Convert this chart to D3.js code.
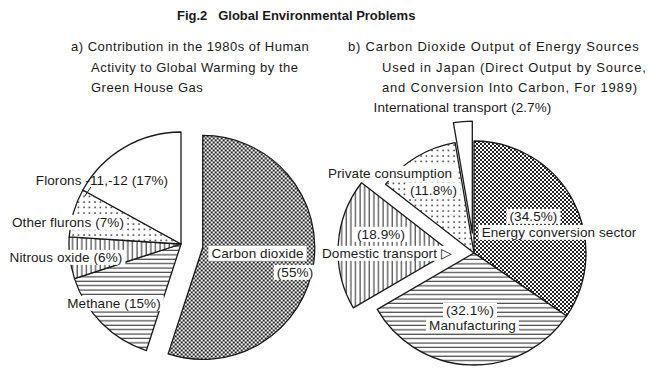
<!DOCTYPE html>
<html>
<head>
<meta charset="utf-8">
<script src="https://cdn.jsdelivr.net/npm/d3@7"></script>
<style>
  body { margin: 0; background: #fff; }
  text { font-family: "Liberation Sans", Arial, sans-serif; fill: #1a1a1a; }
</style>
</head>
<body>
<svg class="chart"></svg>
<script>
// titles
var figTitle = "Fig.2   Global Environmental Problems";
var titleA = ["a) Contribution in the 1980s of Human", "Activity to Global Warming by the", "Green House Gas"];
var titleB = ["b) Carbon Dioxide Output of Energy Sources", "Used in Japan (Direct Output by Source,", "and Conversion Into Carbon, For 1989)"];

// a) greenhouse gases, clockwise from 12 o'clock
var gasNames = ["Carbon dioxide", "Methane", "Nitrous oxide", "Other flurons", "Florons -11,-12"];
var gasShares = [55, 15, 6, 7, 17];

// b) energy sources, clockwise from 12 o'clock
var sourceNames = ["Energy conversion sector", "Manufacturing", "Domestic transport", "Private consumption", "International transport"];
var sourceShares = [34.5, 32.1, 18.9, 11.8, 2.7];

window.onload = function() {

	var width = 650, height = 372, r = 112;

	var svg = d3.select(".chart")
		.attr("width", width)
		.attr("height", height);

	// fill patterns
	var defs = svg.append("defs");
	var checker = defs.append("pattern").attr("id", "checker")
		.attr("patternUnits", "userSpaceOnUse").attr("width", 4).attr("height", 4);
	checker.append("rect").attr("width", 4).attr("height", 4).attr("fill", "#fff");
	checker.append("rect").attr("width", 2).attr("height", 2).attr("fill", "#222");
	checker.append("rect").attr("x", 2).attr("y", 2).attr("width", 2).attr("height", 2).attr("fill", "#222");

	var hlines = defs.append("pattern").attr("id", "hlines")
		.attr("patternUnits", "userSpaceOnUse").attr("width", 8).attr("height", 4.4);
	hlines.append("rect").attr("width", 8).attr("height", 4.4).attr("fill", "#fff");
	hlines.append("rect").attr("y", 1.5).attr("width", 8).attr("height", 1).attr("fill", "#222");

	var vlines = defs.append("pattern").attr("id", "vlines")
		.attr("patternUnits", "userSpaceOnUse").attr("width", 4.6).attr("height", 8);
	vlines.append("rect").attr("width", 4.6).attr("height", 8).attr("fill", "#fff");
	vlines.append("rect").attr("x", 1.5).attr("width", 1).attr("height", 8).attr("fill", "#222");

	var dots = defs.append("pattern").attr("id", "dots")
		.attr("patternUnits", "userSpaceOnUse").attr("width", 5.5).attr("height", 5.5);
	dots.append("rect").attr("width", 5.5).attr("height", 5.5).attr("fill", "#fff");
	dots.append("circle").attr("cx", 2).attr("cy", 2).attr("r", 0.85).attr("fill", "#222");

	var fills = ["url(#checker)", "url(#hlines)", "url(#vlines)", "url(#dots)", "#fff"];

	// title and subtitles
	svg.append("text")
		.attr("x", 177).attr("y", 20)
		.style("font-size", "13px").style("font-weight", "bold")
		.attr("xml:space", "preserve")
		.text(figTitle);

	function subtitle(lines, x0, x1, spacing) {
		svg.append("g").selectAll("text")
			.data(lines)
		  .enter().append("text")
			.attr("x", function(d, i) { return i == 0 ? x0 : x1; })
			.attr("y", function(d, i) { return 51 + i * 20.7; })
			.style("font-size", "13px")
			.style("letter-spacing", spacing + "px")
			.text(function(d) { return d; });
	}
	subtitle(titleA, 71, 91, 0.5);
	subtitle(titleB, 348, 382, 0.8);

	var pie = d3.pie().sort(null).value(function(d) { return d; });
	var arc = d3.arc().innerRadius(0).outerRadius(r);

	// draw one pie, pulling some slices out along their bisector
	function drawPie(cx, cy, values, explode) {
		var g = svg.append("g").attr("transform", "translate(" + cx + "," + cy + ")");
		var arcs = pie(values);
		g.append("g").selectAll("path")
			.data(arcs)
		  .enter().append("path")
			.attr("d", arc)
			.attr("transform", function(d, i) {
				var a = (d.startAngle + d.endAngle) / 2, e = explode[i];
				return "translate(" + (Math.sin(a) * e) + "," + (-Math.cos(a) * e) + ")";
			})
			.attr("fill", function(d, i) { return fills[i]; })
			.attr("stroke", "#1a1a1a")
			.attr("stroke-width", 1.3)
			.attr("stroke-linejoin", "round");
		return {g: g, arcs: arcs};
	}

	// label with a white box behind it
	function label(g, txt, x, y, boxed) {
		var lg = g.append("g");
		var box = lg.append("rect").attr("fill", "#ffffff");
		var t = lg.append("text")
			.attr("x", x).attr("y", y).attr("dy", "0.36em")
			.attr("text-anchor", "middle")
			.style("font-size", "13.5px")
			.style("letter-spacing", "0.1px")
			.text(txt);
		if (boxed) {
			var b = t.node().getBBox();
			box.attr("x", b.x - 3).attr("y", b.y)
				.attr("width", b.width + 6).attr("height", b.height);
		} else {
			box.remove();
		}
	}

	// a) left pie
	var left = drawPie(181, 244, gasShares, [22, 0, 0, 0, 0]);
	var pct = function(v) { return "(" + v + "%)"; };
	label(left.g, gasNames[0], 76.5, 9, true);
	label(left.g, pct(gasShares[0]), 114, 28, true);
	label(left.g, gasNames[1] + " " + pct(gasShares[1]), -67, 59, true);
	label(left.g, gasNames[2] + " " + pct(gasShares[2]), -115, 13, true);
	label(left.g, gasNames[3] + " " + pct(gasShares[3]), -113, -22, true);
	label(left.g, gasNames[4] + " " + pct(gasShares[4]), -79, -64, false);

	// leader from the florons label down to the rim
	var fa = left.arcs[4].startAngle;
	left.g.append("line")
		.attr("x1", Math.sin(fa) * r + 2).attr("y1", -Math.cos(fa) * r + 6)
		.attr("x2", Math.sin(fa) * r + 8).attr("y2", -Math.cos(fa) * r - 3)
		.attr("stroke", "#1a1a1a").attr("stroke-width", 1);

	// b) right pie
	var right = drawPie(474, 253, sourceShares, [0, 0, 24, 0, 20]);
	label(right.g, pct(sourceShares[0]), 59.5, -37, true);
	label(right.g, sourceNames[0], 85, -21, true);
	label(right.g, pct(sourceShares[1]), -4, 57, true);
	label(right.g, sourceNames[1], -1.5, 72, true);
	label(right.g, pct(sourceShares[2]), -93, -19, true);
	label(right.g, sourceNames[2] + " \u25B7", -87, 0, true);
	label(right.g, sourceNames[3], -84, -80, true);
	label(right.g, pct(sourceShares[3]), -40.5, -63, true);
	label(right.g, sourceNames[4] + " " + pct(sourceShares[4]), -11.5, -146, false);
}
</script>
</body>
</html>
